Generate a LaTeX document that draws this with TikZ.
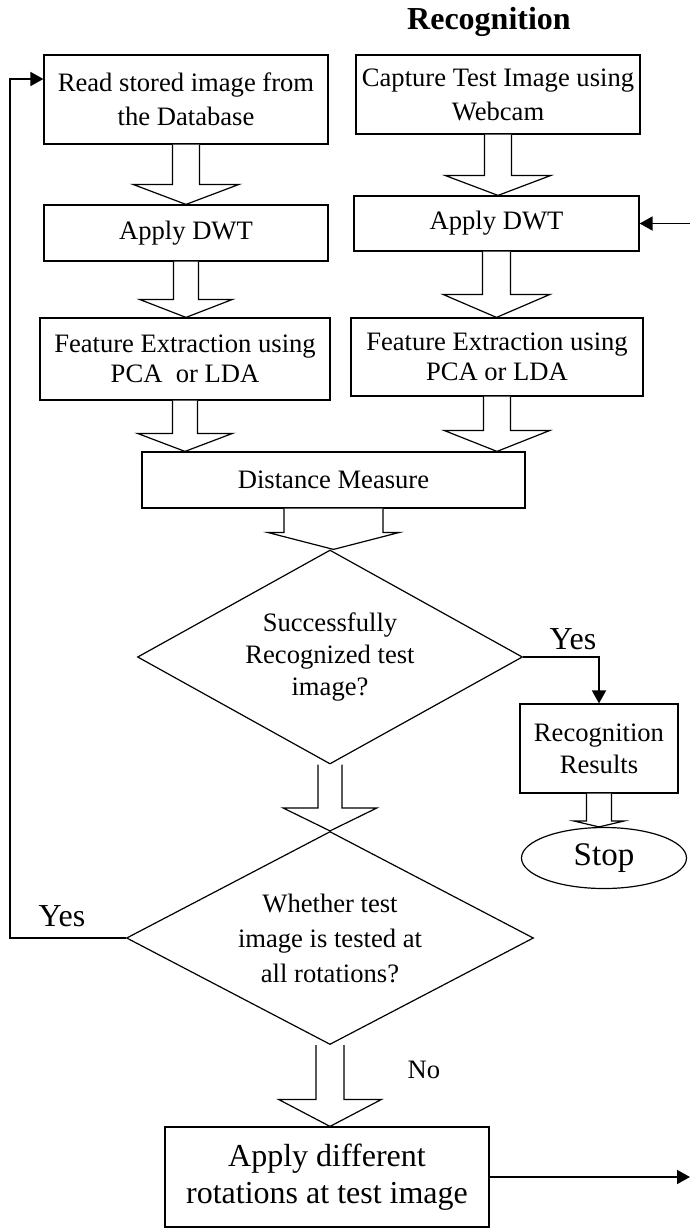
\documentclass[tikz,border=0pt]{standalone}
\usepackage{fontspec}
\setmainfont{Liberation Serif}
\usetikzlibrary{shapes.geometric,arrows.meta,calc}

% hollow block arrow: from, to, shaft half width, head half width, head length
\newcommand{\bigarrow}[5]{%
  \draw[hollow] let \p1=(#1.south), \p2=(#2.north) in
    (\x1-#3,\y1) -- (\x1-#3,\y2+#5) -- (\x1-#4,\y2+#5) -- (\x1,\y2)
    -- (\x1+#4,\y2+#5) -- (\x1+#3,\y2+#5) -- (\x1+#3,\y1);
}

\begin{document}
\begin{tikzpicture}[x=0.5pt,y=-0.5pt,
    box/.style={draw,line width=0.6pt,align=center,inner sep=1pt,font=\fontsize{13.3}{16.5}\selectfont},
    decision/.style={draw,diamond,aspect=1.8,line width=0.6pt,align=center,inner sep=1pt,font=\fontsize{13.3}{16}\selectfont},
    hollow/.style={line width=0.6pt,fill=white,draw},
    link/.style={line width=0.9pt,-{Triangle[length=6.5pt,width=7pt]}},
    lbl/.style={font=\fontsize{16}{18}\selectfont}]
  \useasboundingbox (0,0) rectangle (690,1228);

  \node [font=\bfseries\fontsize{16}{18}\selectfont] (title) at (489,22) {Recognition};

  % top row
  \node [box,minimum width=142pt,minimum height=44.5pt,font=\fontsize{13.3}{17}\selectfont] (read) at (186,99.5) {Read stored image from\\the Database};
  \node [box,minimum width=142pt,minimum height=39.5pt,font=\fontsize{13.3}{17}\selectfont] (capture) at (498,94.5) {Capture Test Image using\\Webcam};
  \node [box,minimum width=142pt,minimum height=28pt] (dwtL) at (186,233) {Apply DWT};
  \node [box,minimum width=142.5pt,minimum height=27.5pt] (dwtR) at (496.5,223.5) {Apply DWT};
  \node [box,minimum width=145pt,minimum height=41pt,font=\fontsize{13.3}{15}\selectfont] (featL) at (185,359) {Feature Extraction using\\PCA~~or LDA};
  \node [box,minimum width=146pt,minimum height=39pt,font=\fontsize{13.3}{15}\selectfont] (featR) at (497,357) {Feature Extraction using\\PCA or LDA};
  \node [box,minimum width=191.5pt,minimum height=28pt] (dist) at (333.5,480) {Distance Measure};

  % decisions
  \node [decision,minimum width=192.5pt,minimum height=107pt] (check) at (330,657) {Successfully\\Recognized test\\image?};
  \node [box,minimum width=79pt,minimum height=44.5pt,font=\fontsize{13.3}{16}\selectfont] (result) at (599,748.5) {Recognition\\Results};
  \node [draw,ellipse,line width=0.6pt,minimum width=82.5pt,minimum height=30.5pt,font=\fontsize{16.5}{18}\selectfont] (stop) at (604,858) {Stop};
  \node [decision,minimum width=203.5pt,minimum height=106.5pt,font=\fontsize{13.3}{17.5}\selectfont] (allrot) at (330,938) {Whether test\\image is tested at\\all rotations?};
  \node [box,minimum width=162pt,minimum height=50pt,font=\fontsize{16}{18.5}\selectfont] (rotate) at (327,1177) {Apply different\\rotations at test image};

  \node [lbl] (yesA) at (573,639) {Yes};
  \node [lbl] (yesB) at (62,916) {Yes};
  \node [font=\fontsize{13.3}{16}\selectfont] (no) at (424,1070) {No};

  \coordinate (back) at (10,79);
  \coordinate (rin) at (690,223.5);
  \coordinate (rout) at (690,1177);

  % block arrows
  \bigarrow{read}{dwtL}{6.75pt}{26.5pt}{10pt}
  \bigarrow{capture}{dwtR}{6.75pt}{26.5pt}{10pt}
  \bigarrow{dwtL}{featL}{6.25pt}{23.25pt}{9pt}
  \bigarrow{dwtR}{featR}{7pt}{26.75pt}{11.5pt}
  \bigarrow{featL}{dist}{6.25pt}{23.75pt}{9pt}
  \bigarrow{featR}{dist}{6.75pt}{26.5pt}{10.5pt}
  \bigarrow{dist}{check}{24.75pt}{33pt}{8.5pt}
  \bigarrow{check}{allrot}{6pt}{23.5pt}{11.5pt}
  \bigarrow{result}{stop}{6.25pt}{12.75pt}{3pt}
  \bigarrow{allrot}{rotate}{7pt}{25.75pt}{13.5pt}

  % line arrows
  \draw [link] (check.east) -| (result.north);
  \draw [link] (allrot.west) -| (back) -- (back -| read.west);
  \draw [link] (rin) -- (dwtR.east);
  \draw [link] (rotate.east) -- (rout);
\end{tikzpicture}
\end{document}
